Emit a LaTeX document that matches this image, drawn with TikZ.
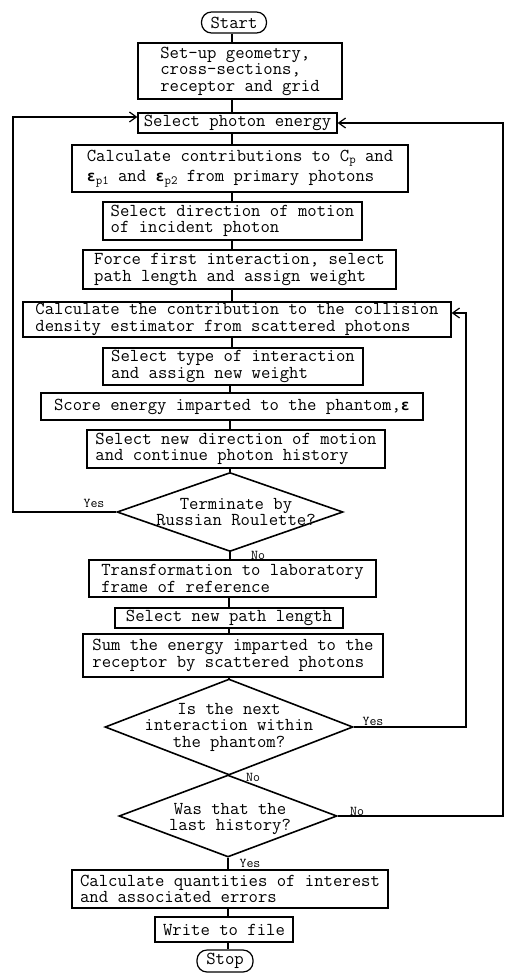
\documentclass[tikz,border=0pt]{standalone}
\usepackage{fontspec}
\newfontfamily\grkfont{DejaVu Sans Mono}
\usetikzlibrary{shapes.geometric,arrows.meta}
\newcommand\mainsz{\ttfamily\fontsize{18.2}{16.5}\selectfont}
\newcommand\smallsz{\ttfamily\fontsize{13.5}{14}\selectfont}
\newcommand\lowsub[1]{\raisebox{-0.35ex}{\fontsize{12.5}{12}\selectfont #1}}
\newcommand\beps{{\grkfont\bfseries\fontsize{15}{15}\selectfont ε}}
\tikzset{
  box/.style={draw, line width=1.2pt, inner xsep=4pt, inner ysep=1pt, align=left, font=\mainsz},
  term/.style={draw, line width=1.2pt, rounded corners=10pt, inner sep=1pt, font=\mainsz},
  decision/.style={draw, diamond, line width=1.6pt, inner sep=0pt},
  dtext/.style={align=center, font=\mainsz, inner sep=0pt},
  lbl/.style={font=\smallsz, inner sep=1pt},
  conn/.style={line width=1.2pt},
  arr/.style={line width=1.2pt, -{Straight Barb[length=7pt,width=10pt]}}
}
\begin{document}
\begin{tikzpicture}[x=1pt,y=-1pt]
\useasboundingbox (0,0) rectangle (506,973);
\coordinate (axa) at (232,0);
\coordinate (axb) at (230,0);
\coordinate (axc) at (229,0);
\coordinate (axd) at (228,0);

\node[term, minimum width=65pt, minimum height=21pt] (start) at (234,22.5) {Start};
\node[box, minimum width=204pt, minimum height=56pt] (setup) at (240,71) {Set-up geometry,\\cross-sections,\\receptor and grid};
\node[box, minimum width=199pt, minimum height=20pt] (energy) at (237.5,123) {Select photon energy};
\node[box, minimum width=336pt, minimum height=47pt] (contrib) at (240,168.5) {Calculate contributions to C\lowsub{p} and\\[3pt]\beps\lowsub{p1} and \beps\lowsub{p2} from primary photons};
\node[box, minimum width=259pt, minimum height=38pt] (direction) at (232.5,221) {Select direction of motion\\of incident photon};
\node[box, minimum width=313pt, minimum height=39pt] (force) at (239.5,269.5) {Force first interaction, select\\path length and assign weight};
\node[box, minimum width=428pt, minimum height=35pt] (collision) at (237,319.5) {Calculate the contribution to the collision\\density estimator from scattered photons};
\node[box, minimum width=260pt, minimum height=37pt] (type) at (233,366.5) {Select type of interaction\\and assign new weight};
\node[box, minimum width=382pt, minimum height=27pt] (score) at (232,406.5) {Score energy imparted to the phantom,\beps};
\node[box, minimum width=298pt, minimum height=38pt] (newdir) at (236,449) {Select new direction of motion\\and continue photon history};
\node[decision, minimum width=226pt, minimum height=79pt,
  label={[dtext, xshift=6pt]center:{Terminate by\\Russian Roulette?}}] (d1) at (230,512) {};
\node[box, minimum width=287pt, minimum height=37pt] (transform) at (232.5,578.5) {Transformation to laboratory\\frame of reference};
\node[box, minimum width=228pt, minimum height=20pt] (pathlen) at (229,618) {Select new path length};
\node[box, minimum width=300pt, minimum height=43pt] (sum) at (233,655.5) {Sum the energy imparted to the\\receptor by scattered photons};
\node[decision, minimum width=248pt, minimum height=96pt,
  label={[dtext]center:{Is the next\\interaction within\\the phantom?}}] (d2) at (229,727) {};
\node[decision, minimum width=218pt, minimum height=82pt,
  label={[dtext, xshift=2pt, yshift=-3pt]center:{Was that the\\last history?}}] (d3) at (228,816) {};
\node[box, minimum width=316pt, minimum height=38pt] (quant) at (230,889) {Calculate quantities of interest\\and associated errors};
\node[box, minimum width=138pt, minimum height=25pt] (write) at (224,929.5) {Write to file};
\node[term, minimum width=56pt, minimum height=22pt] (stop) at (225,961) {Stop};

% main flow
\draw[conn] (start.south -| axa) -- (setup.north -| axa);
\draw[conn] (setup.south -| axa) -- (energy.north -| axa);
\draw[conn] (energy.south -| axa) -- (contrib.north -| axa);
\draw[conn] (contrib.south -| axa) -- (direction.north -| axa);
\draw[conn] (direction.south -| axa) -- (force.north -| axa);
\draw[conn] (force.south -| axa) -- (collision.north -| axa);
\draw[conn] (collision.south -| axa) -- (type.north -| axa);
\draw[conn] (type.south -| axb) -- (score.north -| axb);
\draw[conn] (score.south -| axb) -- (newdir.north -| axb);
\draw[conn] (newdir.south -| d1.north) -- (d1.north);
\draw[conn] (d1.south) -- (transform.north -| d1.south);
\draw[conn] (transform.south -| axc) -- (pathlen.north -| axc);
\draw[conn] (pathlen.south -| axc) -- (sum.north -| axc);
\draw[conn] (sum.south -| d2.north) -- (d2.north);
\draw[conn] (d2.south) -- (d3.north);
\draw[conn] (d3.south) -- (quant.north -| d3.south);
\draw[conn] (quant.south -| axd) -- (write.north -| axd);
\draw[conn] (write.south -| axd) -- (stop.north -| axd);

% loops
\coordinate (lx) at (13,117);
\coordinate (rx) at (466,313);
\coordinate (ox) at (503,123);
\draw[arr] (d1.west) -| (lx) -- (energy.west |- lx);
\draw[arr] (d2.east) -| (rx) -- (collision.east |- rx);
\draw[arr] (d3.east) -| (ox) -- (energy.east |- ox);

% labels
\node[lbl] (yes1) at (94,503) {Yes};
\node[lbl] (no1) at (258,555) {No};
\node[lbl] (yes2) at (373,721) {Yes};
\node[lbl] (no2) at (253,777) {No};
\node[lbl] (no3) at (357,811) {No};
\node[lbl] (yes3) at (250,863) {Yes};
\end{tikzpicture}
\end{document}
